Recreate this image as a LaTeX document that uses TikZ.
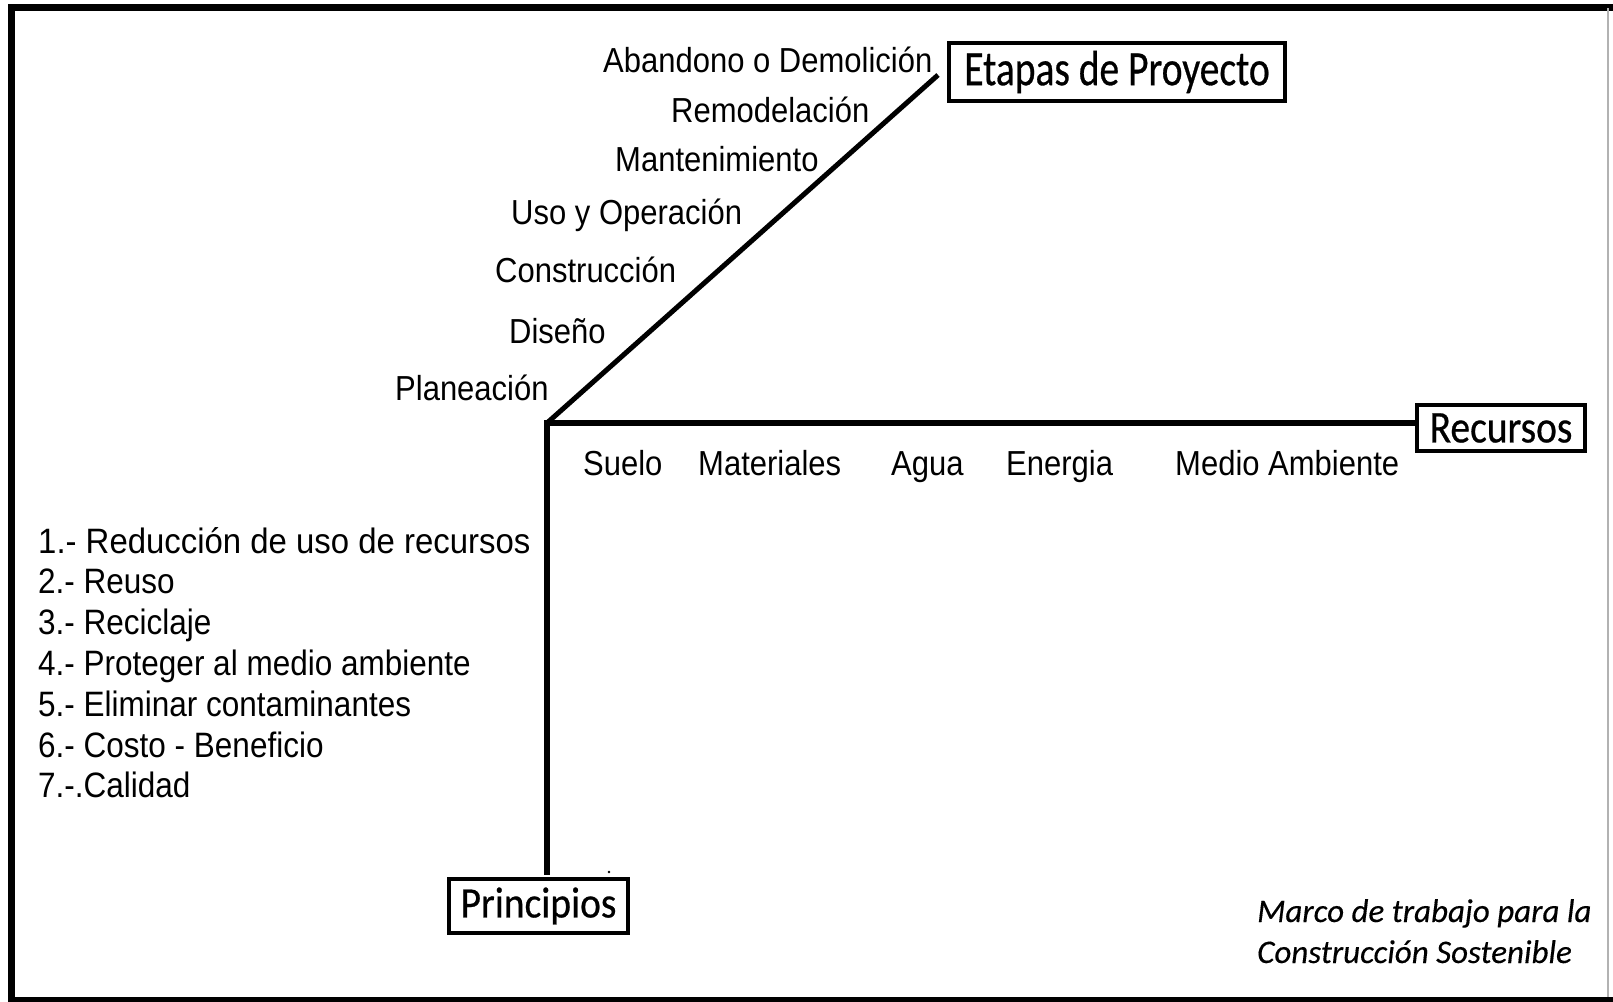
\documentclass[tikz,border=0pt]{standalone}
\usepackage{fontspec}
\setmainfont{Liberation Sans}
\newfontfamily\calfont{Carlito}[FakeBold=0.3]
\newfontfamily\calbfont{Carlito}[FakeBold=0.6]
\newcommand{\tallR}[1]{\scalebox{1}[1.12]{#1}}
\begin{document}
\begin{tikzpicture}[x=1pt,y=-1pt,
  frameline/.style={line width=7pt,black},
  axisline/.style={line width=6pt,black},
  diagline/.style={line width=5pt,black},
  titlebox/.style={draw,line width=4pt,inner sep=0pt,font=\calbfont\fontsize{39.5}{44}\selectfont},
  stagelbl/.style={anchor=base west,inner sep=0pt,font=\fontsize{31}{36}\selectfont},
  reslbl/.style={anchor=base west,inner sep=0pt,font=\fontsize{31}{36}\selectfont},
  princlbl/.style={anchor=base west,inner sep=0pt,font=\fontsize{31.5}{36}\selectfont},
  caption/.style={anchor=base west,inner sep=0pt,font=\calfont\itshape\fontsize{33}{38}\selectfont}]
\useasboundingbox (0,0) rectangle (1613,1001);
% frame
\draw[frameline] (11.5,4) -- (11.5,1001);
\draw[frameline] (8,7.5) -- (1613,7.5);
\draw[line width=5pt] (8,999.5) -- (1613,999.5);
\draw[line width=1.5pt,gray!60] (1608,8) -- (1608,997);
% boxes
\node[titlebox,minimum width=336pt,minimum height=58pt] (etapas) at (1117,72) {\scalebox{1}[1.25]{Etapas de Proyecto}};
\node[titlebox,minimum width=168pt,minimum height=46pt] (recursos) at (1501,428) {\scalebox{1}[1.15]{Recursos}};
\node[titlebox,minimum width=179pt,minimum height=54pt] (principios) at (538.5,906) {\scalebox{1}[1.1]{Principios}};
% axes
\coordinate (O) at (547,423);
\coordinate (diagend) at (938,75);
\coordinate (vertend) at (547,872);
\draw[axisline] (O) -- (recursos.west |- O);
\draw[axisline,line cap=rect] (O) -- (vertend);
\draw[diagline] (O) -- (diagend);
% stages
\node[stagelbl] (s7) at (603,72) {\tallR{Abandono o Demolición}};
\node[stagelbl] (s6) at (671,122) {\tallR{Remodelación}};
\node[stagelbl] (s5) at (615,171.5) {\tallR{Mantenimiento}};
\node[stagelbl] (s4) at (511,224) {\tallR{Uso y Operación}};
\node[stagelbl] (s3) at (495,282) {\tallR{Construcción}};
\node[stagelbl] (s2) at (509,343) {\tallR{Diseño}};
\node[stagelbl] (s1) at (395,400) {\tallR{Planeación}};
% resources
\node[reslbl] (r1) at (583,475) {\tallR{Suelo}};
\node[reslbl] (r2) at (698,475) {\tallR{Materiales}};
\node[reslbl] (r3) at (891,475) {\tallR{Agua}};
\node[reslbl] (r4) at (1006,475) {\tallR{Energia}};
\node[reslbl] (r5) at (1175,475) {\tallR{Medio Ambiente}};
% principles
\node[princlbl] (p1) at (38,553) {\scalebox{1.045}[1.12]{1.- Reducción de uso de recursos}};
\node[princlbl] (p2) at (38,593.8) {\tallR{2.- Reuso}};
\node[princlbl] (p3) at (38,634.6) {\tallR{3.- Reciclaje}};
\node[princlbl] (p4) at (38,675.4) {\tallR{4.- Proteger al medio ambiente}};
\node[princlbl] (p5) at (38,716.2) {\tallR{5.- Eliminar contaminantes}};
\node[princlbl] (p6) at (38,757) {\tallR{6.- Costo - Beneficio}};
\node[princlbl] (p7) at (38,797.8) {\tallR{7.-.Calidad}};
% caption
\node[caption] (c1) at (1257,922) {Marco de trabajo para la};
\node[caption] (c2) at (1257,963) {Construcción Sostenible};
% small dot
\fill (609,872) circle (1.3pt);
\end{tikzpicture}
\end{document}
